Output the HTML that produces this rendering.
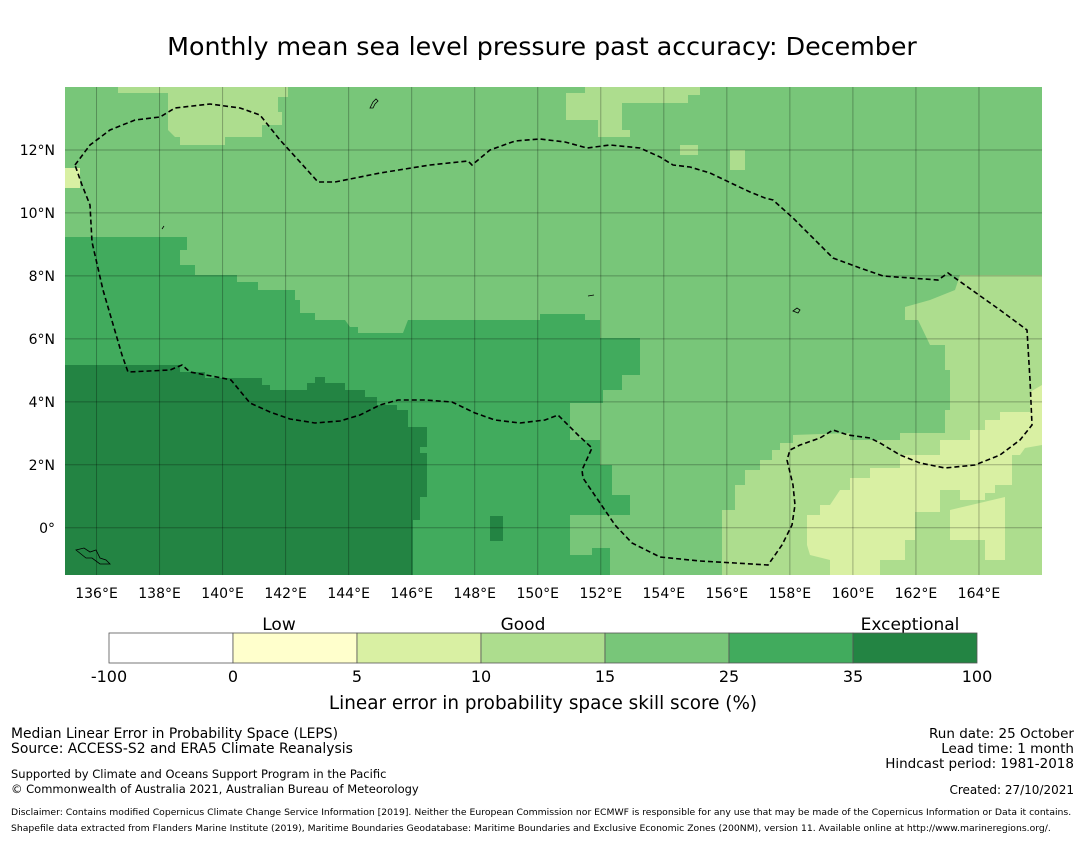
<!DOCTYPE html>
<html><head><meta charset="utf-8"><style>
body{margin:0;background:#fff;font-family:"Liberation Sans","DejaVu Sans",sans-serif;}
svg text{font-family:"DejaVu Sans","Liberation Sans",sans-serif;}
</style></head><body>
<svg width="1085" height="839" viewBox="0 0 1085 839">
<text x="542" y="55" font-size="25.3" text-anchor="middle">Monthly mean sea level pressure past accuracy: December</text>
<defs><clipPath id="mc"><rect x="65" y="87" width="977" height="488"/></clipPath></defs>
<g clip-path="url(#mc)">
<rect x="65" y="87" width="977" height="488" fill="#78c679"/>
<polygon fill="#41ab5d" points="65,237 187,237 187,250 180,250 180,265 195,265 195,275 237,275 237,282 258,282 258,290 295,290 295,300 300,300 300,313 315,313 315,320 345,320 350,327 358,327 358,333 403,333 408,320 540,320 540,314 585,314 585,320 600,320 600,338 640,338 640,375 622,375 622,390 603,390 603,403 570,403 570,440 600,440 600,465 612,465 612,495 630,495 630,515 570,515 570,555 592,555 592,548 610,548 610,575 65,575"/>
<polygon fill="#238443" points="65,365 180,365 180,372 205,372 205,378 262,378 262,385 270,385 270,390 307,390 307,383 315,383 315,377 325,377 325,383 345,383 345,390 365,390 365,397 377,397 377,405 397,405 397,410 408,410 408,427 427,427 427,447 420,447 420,453 427,453 427,497 420,497 420,520 413,520 413,575 65,575"/>
<rect x="490" y="516" width="13" height="25" fill="#238443"/>
<polygon fill="#addd8e" points="118,87 288,87 288,97 278,97 278,112 282,112 282,125 262,125 262,137 225,137 225,145 180,145 180,137 175,137 168,130 168,93 118,93"/>
<rect x="65" y="168" width="15" height="20" fill="#d9f0a3"/>
<polygon fill="#addd8e" points="566,93 585,93 585,87 700,87 700,95 688,95 688,103 622,103 622,130 630,130 630,137 598,137 598,120 566,120"/>
<rect x="680" y="145" width="18" height="10" fill="#addd8e"/>
<rect x="730" y="150" width="15" height="20" fill="#addd8e"/>
<polygon fill="#addd8e" points="960,275 1042,275 1042,575 722,575 722,510 735,510 735,485 745,485 745,470 760,470 760,460 772,460 772,450 780,450 780,443 793,443 793,435 850,433 850,440 900,440 900,433 945,433 945,410 950,410 950,370 945,370 945,345 930,345 918,320 905,320 905,307 930,300 955,290"/>
<polygon fill="#d9f0a3" points="807,545 807,515 820,515 820,505 830,505 840,490 850,490 850,478 870,478 870,468 900,468 900,455 940,455 940,440 970,440 970,430 985,430 985,420 1000,420 1000,412 1030,412 1030,392 1042,385 1042,445 1025,448 1020,455 1012,455 1012,485 995,485 995,493 985,493 985,500 960,500 960,490 940,490 940,512 915,512 915,540 905,540 905,560 880,560 880,575 830,575 830,560 810,555"/>
<polygon fill="#d9f0a3" points="950,510 1005,497 1005,560 985,560 985,540 950,540"/>
<g id="grid" stroke="#000" stroke-opacity="0.28" stroke-width="1"></g>
<polyline fill="none" stroke="#000" stroke-width="1.6" stroke-dasharray="5,3" points="75,165 90,145 110,130 135,120 160,117 175,108 210,104 240,108 260,115 280,140 300,162 318,182 335,182 380,173 430,165 468,161 472,165 490,150 515,141 540,139 565,142 587,148 610,145 640,148 660,157 673,165 690,167 710,173 733,184 750,192 765,198 773,200 793,218 810,235 833,258 860,268 883,276 938,280 948,273 1000,310 1027,330 1030,380 1032,425 1020,440 1000,455 975,465 945,468 920,463 900,455 880,443 870,438 848,435 833,430 820,438 800,445 790,450 787,460 793,485 795,505 792,525 782,545 768,565 735,563 700,561 660,557 632,543 615,525 598,500 583,478 582,470 592,448 578,435 558,415 545,420 520,423 495,420 475,413 452,402 425,400 398,400 380,405 360,415 340,421 315,423 290,419 270,412 250,403 231,380 222,378 190,372 182,365 170,370 128,372 122,355 103,290 92,242 90,205 82,185 75,165"/>
<g fill="none" stroke="#000" stroke-width="0.8">
<path d="M76,550 l8,-2 6,4 6,-2 4,8 6,2 4,4 -10,0 -8,-6 -6,0 z"/>
<path d="M370,108 l3,-6 3,-3 2,2 -3,3 -2,4 z"/><path d="M793,311 l4,-3 3,2 -2,3 z"/><path d="M588,296 l6,-1"/><path d="M162,229 l2,-3"/>
</g>
</g>
<g id="axes"></g>
<g font-size="16">
<text x="279" y="630" font-size="17" text-anchor="middle">Low</text>
<text x="523" y="630" font-size="17" text-anchor="middle">Good</text>
<text x="910" y="630" font-size="17" text-anchor="middle">Exceptional</text>
<g id="cbar"></g>
<text x="543" y="709" font-size="18.4" text-anchor="middle">Linear error in probability space skill score (%)</text>
</g>
<g font-size="13.9">
<text x="11" y="738">Median Linear Error in Probability Space (LEPS)</text>
<text x="11" y="753">Source: ACCESS-S2 and ERA5 Climate Reanalysis</text>
<text x="11" y="778" font-size="11.5">Supported by Climate and Oceans Support Program in the Pacific</text>
<text x="11" y="793" font-size="11.5">© Commonwealth of Australia 2021, Australian Bureau of Meteorology</text>
</g>
<g font-size="13.5" text-anchor="end">
<text x="1074" y="738">Run date: 25 October</text>
<text x="1074" y="753">Lead time: 1 month</text>
<text x="1074" y="768">Hindcast period: 1981-2018</text>
<text x="1074" y="794" font-size="12">Created: 27/10/2021</text>
</g>
<text x="11" y="815" font-size="9.25">Disclaimer: Contains modified Copernicus Climate Change Service Information [2019]. Neither the European Commission nor ECMWF is responsible for any use that may be made of the Copernicus Information or Data it contains.</text>
<text x="11" y="831" font-size="9.25">Shapefile data extracted from Flanders Marine Institute (2019), Maritime Boundaries Geodatabase: Maritime Boundaries and Exclusive Economic Zones (200NM), version 11. Available online at http://www.marineregions.org/.</text>
</svg>
<script>
const lonTicks=[136,138,140,142,144,146,148,150,152,154,156,158,160,162,164];
const latTicks=[0,2,4,6,8,10,12];
const cbarBounds=["-100","0","5","10","15","25","35","100"];
const cbarColors=["#ffffff","#ffffcc","#d9f0a3","#addd8e","#78c679","#41ab5d","#238443"];
const NS="http://www.w3.org/2000/svg";
const lonMin=135,lonMax=166,latMin=-1.5,latMax=14;
const X=l=>65+(l-lonMin)/(lonMax-lonMin)*977;
const Y=l=>87+(latMax-l)/(latMax-latMin)*488;
function mk(t,a,p){const e=document.createElementNS(NS,t);for(const k in a)e.setAttribute(k,a[k]);p.appendChild(e);return e;}
const grid=document.getElementById('grid'),axes=document.getElementById('axes');
lonTicks.forEach(l=>{
 const ln=mk('line',{x1:X(l),x2:X(l),y1:87,y2:575},grid);
 
 
 const t=mk('text',{x:X(l),y:598,'font-size':14,'text-anchor':'middle'},axes);
 t.textContent=l+'°E';
 
 
});
latTicks.forEach(l=>{
 const ln=mk('line',{x1:65,x2:1042,y1:Y(l),y2:Y(l)},grid);
 
 
 const t=mk('text',{x:55,y:Y(l)+5,'font-size':14,'text-anchor':'end'},axes);
 t.textContent=l===0?'0°':l+'°N';
 
 
});
const cb=document.getElementById('cbar');
const cx0=109,cw=124,cy=633,ch=30;
cbarColors.forEach((c,i)=>{
 const r=mk('rect',{x:cx0+i*cw,y:cy,width:cw,height:ch,fill:c,stroke:'#555','stroke-width':0.8},cb);
 
 
});
cbarBounds.forEach((b,i)=>{
 const t=mk('text',{x:cx0+i*cw,y:682,'font-size':16,'text-anchor':'middle'},cb);
 t.textContent=b;
 
 
});
</script>
</body></html>
